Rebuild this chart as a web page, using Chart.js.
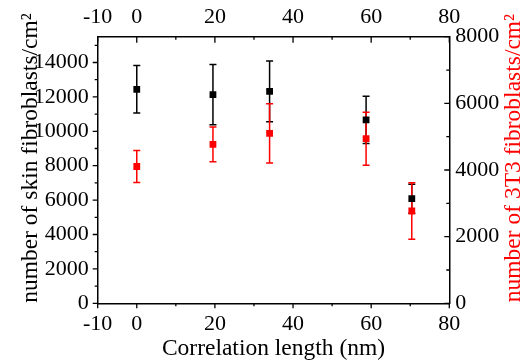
<!DOCTYPE html>
<html><head><meta charset="utf-8">
<script src="https://cdn.jsdelivr.net/npm/chart.js@4.4.1/dist/chart.umd.min.js"></script>
<style>html,body{margin:0;padding:0;background:#fff;}canvas{display:block;}</style>
</head><body>
<canvas id="c" width="528" height="363"></canvas>
<script>
// ---- data ----
const correlationLength = [0, 19.5, 34, 58.7, 70.4];
const skinFibroblasts = [12440, 12130, 12320, 10660, 6080];
const skinError = [1380, 1750, 1770, 1375, 840];
const t3Fibroblasts = [4105, 4770, 5100, 4940, 2770];
const t3Error = [478, 523, 890, 795, 850];
// ---- ticks ----
const xTickLabels = [-10, 0, 20, 40, 60, 80];
const xMinorTicks = [10, 30, 50, 70];
const leftTickLabels = [0, 2000, 4000, 6000, 8000, 10000, 12000, 14000];
const leftMinorTicks = [1000, 3000, 5000, 7000, 9000, 11000, 13000, 15000];
const rightTickLabels = [0, 2000, 4000, 6000, 8000];
const rightMinorTicks = [1000, 3000, 5000, 7000];

const xTitle = 'Correlation length (nm)';
const leftTitle = 'number of skin fibroblasts/cm\u00B2';
const rightTitle = 'number of 3T3 fibroblasts/cm\u00B2';

const FONT = "'Liberation Serif', 'Times New Roman', serif";
const tickFont = {family: FONT, size: 22};
const titleFont = {family: FONT, size: 23.5};
const RED = 'rgb(255,0,0)';
const plain = v => String(v);

const errorSets = [skinError, t3Error];

const extras = {
  id: 'extras',
  beforeDatasetsDraw(chart) {
    const ctx = chart.ctx;
    chart.data.datasets.forEach((ds, i) => {
      const xs = chart.scales[ds.xAxisID];
      const ys = chart.scales[ds.yAxisID];
      const err = errorSets[i];
      ctx.save();
      ctx.strokeStyle = ds.borderColor;
      ctx.lineWidth = 1.5;
      ds.data.forEach((p, j) => {
        const px = xs.getPixelForValue(p.x);
        const yt = ys.getPixelForValue(p.y + err[j]);
        const yb = ys.getPixelForValue(p.y - err[j]);
        ctx.beginPath();
        ctx.moveTo(px, yt); ctx.lineTo(px, yb);
        ctx.moveTo(px - 3.5, yt); ctx.lineTo(px + 3.5, yt);
        ctx.moveTo(px - 3.5, yb); ctx.lineTo(px + 3.5, yb);
        ctx.stroke();
      });
      ctx.restore();
    });
  },
  afterDraw(chart) {
    const ctx = chart.ctx;
    const a = chart.chartArea;
    const s = chart.scales;
    ctx.save();
    ctx.strokeStyle = '#000';
    ctx.lineWidth = 1.3;
    ctx.beginPath();
    const hx = (scale, vals, y0, len) => vals.forEach(v => {
      const p = scale.getPixelForValue(v);
      ctx.moveTo(p, y0); ctx.lineTo(p, y0 + len);
    });
    const vy = (scale, vals, x0, len) => vals.forEach(v => {
      const p = scale.getPixelForValue(v);
      ctx.moveTo(x0, p); ctx.lineTo(x0 + len, p);
    });
    hx(s.x, xTickLabels, a.bottom, 5);
    hx(s.x, xMinorTicks, a.bottom, 3);
    hx(s.x2, xTickLabels, a.top, 6);
    hx(s.x2, xMinorTicks, a.top, 3);
    vy(s.y, leftTickLabels, a.left, -5);
    vy(s.y, leftMinorTicks, a.left, -3);
    vy(s.y2, rightTickLabels, a.right, -5);
    vy(s.y2, rightMinorTicks, a.right, -3);
    ctx.stroke();
    // rotated y titles (bottom-to-top)
    ctx.font = titleFont.size + 'px ' + FONT;
    ctx.textAlign = 'center';
    ctx.textBaseline = 'alphabetic';
    const cy = 158;
    ctx.save();
    ctx.translate(37, cy); ctx.rotate(-Math.PI / 2);
    ctx.fillStyle = '#000';
    ctx.fillText(leftTitle, 0, 0);
    ctx.restore();
    ctx.save();
    ctx.translate(520, cy); ctx.rotate(-Math.PI / 2);
    ctx.fillStyle = RED;
    ctx.fillText(rightTitle, 0, 0);
    ctx.restore();
    ctx.restore();
  }
};

const border = {display: true, color: '#000', width: 1.5};
const grid = {display: true, drawOnChartArea: false, drawTicks: false};

new Chart(document.getElementById('c'), {
  type: 'scatter',
  data: {
    datasets: [
      {
        label: 'skin',
        data: correlationLength.map((x, i) => ({x, y: skinFibroblasts[i]})),
        xAxisID: 'x', yAxisID: 'y',
        backgroundColor: '#000', borderColor: '#000',
        pointStyle: 'rect', pointRadius: 4.8, borderWidth: 0
      },
      {
        label: '3T3',
        data: correlationLength.map((x, i) => ({x, y: t3Fibroblasts[i]})),
        xAxisID: 'x', yAxisID: 'y2',
        backgroundColor: RED, borderColor: RED,
        pointStyle: 'rect', pointRadius: 4.8, borderWidth: 0
      }
    ]
  },
  options: {
    responsive: false,
    animation: false,
    devicePixelRatio: 1,
    layout: {padding: 0},
    plugins: {legend: {display: false}, tooltip: {enabled: false}},
    scales: {
      x: {
        type: 'linear', position: 'bottom', min: -10, max: 80,
        afterBuildTicks: sc => { sc.ticks = xTickLabels.map(v => ({value: v})); },
        afterFit: sc => { sc.height = 59.7; },
        grid, border,
        ticks: {color: '#000', font: tickFont, padding: 8, maxRotation: 0, autoSkip: false, callback: plain},
        title: {display: true, text: xTitle, color: '#000', font: titleFont, padding: 0}
      },
      x2: {
        type: 'linear', position: 'top', min: -10, max: 80,
        afterBuildTicks: sc => { sc.ticks = xTickLabels.map(v => ({value: v})); },
        afterFit: sc => { sc.height = 36.7; },
        grid, border,
        ticks: {color: '#000', font: tickFont, padding: 6, maxRotation: 0, autoSkip: false, callback: plain}
      },
      y: {
        type: 'linear', position: 'left', min: 0, max: 15500,
        afterBuildTicks: sc => { sc.ticks = leftTickLabels.map(v => ({value: v})); },
        afterFit: sc => { sc.width = 97.7; },
        grid, border,
        ticks: {color: '#000', font: tickFont, padding: 9, autoSkip: false, callback: plain}
      },
      y2: {
        type: 'linear', position: 'right', min: 0, max: 8000,
        afterBuildTicks: sc => { sc.ticks = rightTickLabels.map(v => ({value: v})); },
        afterFit: sc => { sc.width = 78.7; },
        grid, border,
        ticks: {color: '#000', font: tickFont, padding: 6, autoSkip: false, callback: plain}
      }
    }
  },
  plugins: [extras]
});
</script>
</body></html>
